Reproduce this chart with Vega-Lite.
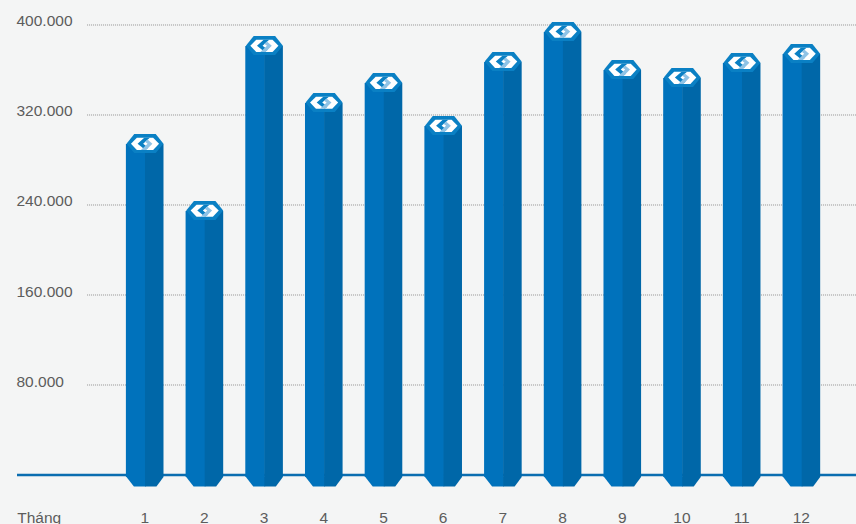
{
"$schema":"https://vega.github.io/schema/vega-lite/v6.json",
"width":839,"height":500,
"autosize":{"type":"none"},
"padding":{"left":17,"top":0,"right":0,"bottom":24},
"background":"#f4f5f5",
"view":{"stroke":null},
"config":{"axis":{"labelFont":"Liberation Sans","labelFontSize":15.5,"labelColor":"#5c5c5c","title":null,"domain":false,"ticks":false,"grid":false}},
"data":{"values":[
{"month":1,"value":303100},{"month":2,"value":243600},{"month":3,"value":390200},{"month":4,"value":339600},{"month":5,"value":357300},{"month":6,"value":319100},{"month":7,"value":376000},{"month":8,"value":402700},{"month":9,"value":368900},{"month":10,"value":361800},{"month":11,"value":375100},{"month":12,"value":383100}]},
"encoding":{
"x":{"field":"month","type":"quantitative","scale":{"domain":[-1.144,12.91],"nice":false,"zero":false,"padding":0},
"axis":{"values":[-0.767,1,2,3,4,5,6,7,8,9,10,11,12],"labelExpr":"datum.value<0?'Tháng':datum.value","labelPadding":10,"labelOffset":-0.8,"labelBaseline":"top","labelFlush":false,"labelOverlap":false}},
"y":{"field":"value","type":"quantitative","scale":{"domain":[-22222,422222],"nice":false,"zero":false},
"axis":{"values":[80000,160000,240000,320000,400000],"labelExpr":"replace(format(datum.value,','),',','.')","labelAlign":"left","labelPadding":1,"labelOffset":-4,"labelFlush":false,"labelOverlap":false}}
},
"layer":[
{"data":{"values":[{"tick":80000,"from":0.03,"to":12.91},{"tick":160000,"from":0.03,"to":12.91},{"tick":240000,"from":0.03,"to":12.91},{"tick":320000,"from":0.03,"to":12.91},{"tick":400000,"from":0.03,"to":12.91}]},
"mark":{"type":"rule","color":"#7a7a7a","strokeWidth":0.8,"strokeDash":[1,1]},
"encoding":{"x":{"field":"from","type":"quantitative"},"x2":{"field":"to"},"y":{"field":"tick","type":"quantitative"}}},
{"data":{"values":[{"base":0,"from":-1.144,"to":12.91}]},
"mark":{"type":"rule","color":"#0a6db0","strokeWidth":2.6},
"encoding":{"x":{"field":"from","type":"quantitative"},"x2":{"field":"to"},"y":{"field":"base","type":"quantitative"}}},
{"mark":{"type":"bar","size":19.6,"xOffset":-9.3,"yOffset":10,"color":"#0072bc"},"encoding":{"y2":{"datum":-1778}}},
{"mark":{"type":"bar","size":18.5,"xOffset":9.25,"yOffset":10,"color":"#0067a8"},"encoding":{"y2":{"datum":-1778}}},
{"mark":{"type":"point","filled":true,"opacity":1,"size":1369,"strokeWidth":0,"color":"#0072bc","shape":"M-1 0L.04 0L.04 .52L-.6 .52Z"},"encoding":{"y":{"datum":-1778,"type":"quantitative"}}},
{"mark":{"type":"point","filled":true,"opacity":1,"size":1369,"strokeWidth":0,"color":"#0067a8","shape":"M0 0L1 0L.62 .52L0 .52Z"},"encoding":{"y":{"datum":-1778,"type":"quantitative"}}},
{"mark":{"type":"point","filled":true,"opacity":1,"size":1369,"strokeWidth":0,"color":"#0a80c4","shape":"M-1 .52L-.58 0L.58 0L1 .52L.58 1.03L-.58 1.03Z"}},
{"mark":{"type":"point","filled":true,"opacity":1,"size":1369,"strokeWidth":0,"color":"#ffffff","shape":"M-.76 .52L-.44 .2L.44 .2L.76 .52L.44 .86L-.44 .86Z"}},
{"mark":{"type":"point","filled":true,"opacity":1,"size":1369,"strokeWidth":0,"color":"#0a80c4","shape":"M-.04 .2L.26 .2L-.1 .52L.18 .74L.02 .86L-.4 .52Z"}},
{"mark":{"type":"point","filled":true,"opacity":1,"size":1369,"strokeWidth":0,"color":"#8fc3e6","shape":"M.14 .3L.4 .52L.06 .86L-.22 .86L.14 .52L0 .42Z"}}
]
}
